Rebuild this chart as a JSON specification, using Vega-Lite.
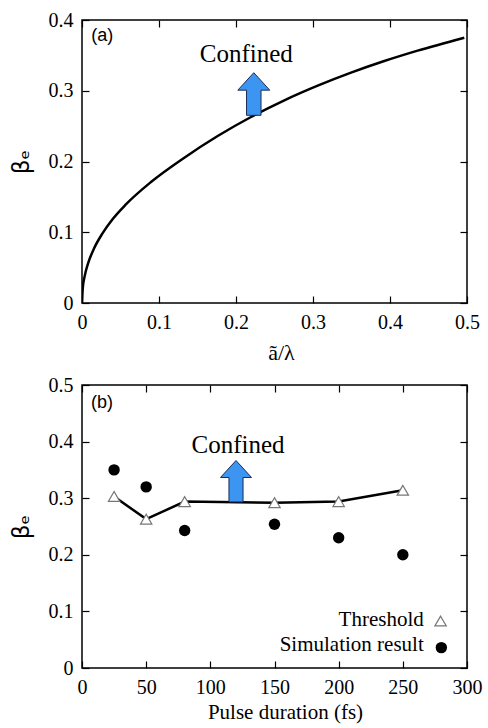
{
  "$schema": "https://vega.github.io/schema/vega-lite/v6.json",
  "background": "white",
  "padding": {"left": 9, "top": 9, "right": 5, "bottom": 5},
  "bounds": "flush",
  "spacing": 82,
  "config": {
    "font": "Liberation Serif",
    "view": {"stroke": "black", "strokeWidth": 1.5},
    "style": {"guide-label": {"font": "Liberation Serif"}, "guide-title": {"font": "Liberation Serif"}},
    "axis": {
      "domain": false, "grid": false,
      "tickSize": -7, "tickColor": "black", "tickWidth": 1.2,
      "labelPadding": 16, "labelFont": "Liberation Serif", "labelFontSize": 20, "labelColor": "black",
      "labelFlush": false, "labelOverlap": false,
      "titleFont": "Liberation Serif", "titleFontSize": 21, "titleFontWeight": "normal", "titleColor": "black"
    }
  },
  "vconcat": [
    {
      "width": 385, "height": 283,
      "resolve": {"axis": {"x": "independent", "y": "independent"}},
      "layer": [
        {
          "data": {"values": [
            {"a": 0, "b": 0}, {"a": 0.001, "b": 0.021}, {"a": 0.0035, "b": 0.038}, {"a": 0.0082, "b": 0.057},
            {"a": 0.0156, "b": 0.077}, {"a": 0.0264, "b": 0.098}, {"a": 0.0394, "b": 0.118}, {"a": 0.0567, "b": 0.139},
            {"a": 0.0896, "b": 0.171}, {"a": 0.1329, "b": 0.2054}, {"a": 0.1762, "b": 0.236}, {"a": 0.2195, "b": 0.2629},
            {"a": 0.2628, "b": 0.2865}, {"a": 0.3061, "b": 0.3072}, {"a": 0.3494, "b": 0.3256}, {"a": 0.3926, "b": 0.342},
            {"a": 0.4359, "b": 0.3567}, {"a": 0.4965, "b": 0.375}
          ]},
          "mark": {"type": "line", "color": "black", "strokeWidth": 2.5, "clip": true, "interpolate": "monotone"},
          "encoding": {
            "x": {"field": "a", "type": "quantitative", "scale": {"domain": [0, 0.5], "nice": false},
              "axis": {"orient": "bottom", "title": "ã/λ", "titleFontSize": 22, "titlePadding": 10, "titleX": 199,
                "labelFont": "Liberation Serif", "titleFont": "Liberation Serif",
                "values": [0, 0.1, 0.2, 0.3, 0.4, 0.5],
                "labelExpr": "datum.value === 0 ? '0' : format(datum.value, '.1f')"}},
            "y": {"field": "b", "type": "quantitative", "scale": {"domain": [0, 0.4], "nice": false},
              "axis": {"orient": "left", "title": "βₑ", "titleFont": "DejaVu Sans", "titleFontSize": 23, "titlePadding": 15,
                "labelFont": "Liberation Serif",
                "values": [0, 0.1, 0.2, 0.3, 0.4],
                "labelExpr": "datum.value === 0 ? '0' : format(datum.value, '.1f')"}}
          }
        },
        {
          "data": {"values": [{"a": 0.2231, "b": 0.2954}]},
          "mark": {"type": "point", "shape": "M0,-1L0.75,-0.18L0.34,-0.18L0.34,1L-0.34,1L-0.34,-0.18L-0.75,-0.18Z",
            "filled": true, "fill": "#3d95f2", "stroke": "#1b2b55", "strokeWidth": 1, "size": 1815, "opacity": 1},
          "encoding": {
            "x": {"field": "a", "type": "quantitative",
              "axis": {"orient": "top", "labels": false, "title": null, "values": [0, 0.1, 0.2, 0.3, 0.4, 0.5]}},
            "y": {"field": "b", "type": "quantitative",
              "axis": {"orient": "right", "labels": false, "title": null, "values": [0, 0.1, 0.2, 0.3, 0.4]}}
          }
        },
        {
          "data": {"values": [{"a": 0.2134, "b": 0.3406, "t": "Confined"}]},
          "mark": {"type": "text", "font": "Liberation Serif", "fontSize": 25, "align": "center", "baseline": "alphabetic", "color": "black"},
          "encoding": {
            "x": {"field": "a", "type": "quantitative", "axis": null},
            "y": {"field": "b", "type": "quantitative", "axis": null},
            "text": {"field": "t"}
          }
        },
        {
          "data": {"values": [{"a": 0.012, "b": 0.3767, "t": "(a)"}]},
          "mark": {"type": "text", "font": "Liberation Sans", "fontSize": 18, "align": "left", "baseline": "middle", "color": "black"},
          "encoding": {
            "x": {"field": "a", "type": "quantitative", "axis": null},
            "y": {"field": "b", "type": "quantitative", "axis": null},
            "text": {"field": "t"}
          }
        }
      ]
    },
    {
      "width": 385, "height": 283,
      "resolve": {"axis": {"x": "independent", "y": "independent"}},
      "layer": [
        {
          "data": {"values": [
            {"t": 25, "b": 0.303}, {"t": 50, "b": 0.263}, {"t": 80, "b": 0.294},
            {"t": 150, "b": 0.292}, {"t": 200, "b": 0.294}, {"t": 250, "b": 0.314}
          ]},
          "mark": {"type": "line", "color": "black", "strokeWidth": 2.5},
          "encoding": {
            "x": {"field": "t", "type": "quantitative", "scale": {"domain": [0, 300], "nice": false},
              "axis": {"orient": "bottom", "title": "Pulse duration (fs)", "titlePadding": 4, "titleX": 203,
                "labelFont": "Liberation Serif", "titleFont": "Liberation Serif",
                "values": [0, 50, 100, 150, 200, 250, 300]}},
            "y": {"field": "b", "type": "quantitative", "scale": {"domain": [0, 0.5], "nice": false},
              "axis": {"orient": "left", "title": "βₑ", "titleFont": "DejaVu Sans", "titleFontSize": 23, "titlePadding": 15,
                "labelFont": "Liberation Serif",
                "values": [0, 0.1, 0.2, 0.3, 0.4, 0.5],
                "labelExpr": "datum.value === 0 ? '0' : format(datum.value, '.1f')"}}
          }
        },
        {
          "data": {"values": [
            {"t": 25, "b": 0.303}, {"t": 50, "b": 0.263}, {"t": 80, "b": 0.294},
            {"t": 150, "b": 0.292}, {"t": 200, "b": 0.294}, {"t": 250, "b": 0.314},
            {"t": 279.4, "b": 0.083}
          ]},
          "mark": {"type": "point", "shape": "triangle-up", "filled": false, "fill": "white", "stroke": "#777777", "strokeWidth": 1.2, "size": 130, "opacity": 1},
          "encoding": {
            "x": {"field": "t", "type": "quantitative",
              "axis": {"orient": "top", "labels": false, "title": null, "values": [0, 50, 100, 150, 200, 250, 300]}},
            "y": {"field": "b", "type": "quantitative",
              "axis": {"orient": "right", "labels": false, "title": null, "values": [0, 0.1, 0.2, 0.3, 0.4, 0.5]}}
          }
        },
        {
          "data": {"values": [
            {"t": 25, "b": 0.35}, {"t": 50, "b": 0.32}, {"t": 80, "b": 0.243},
            {"t": 150, "b": 0.254}, {"t": 200, "b": 0.23}, {"t": 250, "b": 0.2},
            {"t": 280, "b": 0.036}
          ]},
          "mark": {"type": "point", "shape": "circle", "filled": true, "color": "black", "size": 130, "opacity": 1},
          "encoding": {
            "x": {"field": "t", "type": "quantitative", "axis": null},
            "y": {"field": "b", "type": "quantitative", "axis": null}
          }
        },
        {
          "data": {"values": [{"t": 120, "b": 0.33}]},
          "mark": {"type": "point", "shape": "M0,-1L0.75,-0.18L0.34,-0.18L0.34,1L-0.34,1L-0.34,-0.18L-0.75,-0.18Z",
            "filled": true, "fill": "#3d95f2", "stroke": "#1b2b55", "strokeWidth": 1, "size": 1714, "opacity": 1},
          "encoding": {
            "x": {"field": "t", "type": "quantitative", "axis": null},
            "y": {"field": "b", "type": "quantitative", "axis": null}
          }
        },
        {
          "data": {"values": [{"t": 121.6, "b": 0.38, "s": "Confined"}]},
          "mark": {"type": "text", "font": "Liberation Serif", "fontSize": 25, "align": "center", "baseline": "alphabetic", "color": "black"},
          "encoding": {
            "x": {"field": "t", "type": "quantitative", "axis": null},
            "y": {"field": "b", "type": "quantitative", "axis": null},
            "text": {"field": "s"}
          }
        },
        {
          "data": {"values": [{"t": 266.3, "b": 0.0742, "s": "Threshold"}, {"t": 266.3, "b": 0.03, "s": "Simulation result"}]},
          "mark": {"type": "text", "font": "Liberation Serif", "fontSize": 21, "align": "right", "baseline": "alphabetic", "color": "black"},
          "encoding": {
            "x": {"field": "t", "type": "quantitative", "axis": null},
            "y": {"field": "b", "type": "quantitative", "axis": null},
            "text": {"field": "s"}
          }
        },
        {
          "data": {"values": [{"t": 7, "b": 0.469, "s": "(b)"}]},
          "mark": {"type": "text", "font": "Liberation Sans", "fontSize": 18, "align": "left", "baseline": "middle", "color": "black"},
          "encoding": {
            "x": {"field": "t", "type": "quantitative", "axis": null},
            "y": {"field": "b", "type": "quantitative", "axis": null},
            "text": {"field": "s"}
          }
        }
      ]
    }
  ]
}
